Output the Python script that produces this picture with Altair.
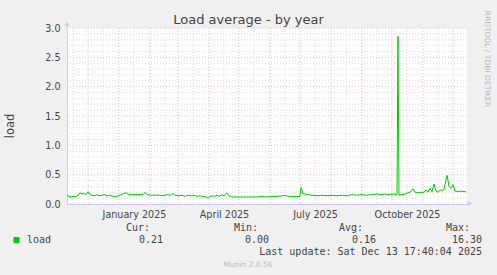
import altair as alt
import pandas as pd

# ---- data ----
start_day = "2024-11-10"
day_offsets = [0, 2, 4, 6, 8, 10, 12, 13, 15, 17, 19, 21, 23, 25, 28, 30, 32, 35, 38, 40,
               43, 46, 48, 51, 54, 57, 59, 61, 64, 68, 72, 76, 78, 80, 84, 88, 92, 96, 100, 103,
               106, 108, 112, 115, 118, 121, 124, 127, 130, 133, 136, 139, 141, 143, 146, 148, 150, 152, 155, 157,
               160, 162, 165, 170, 175, 180, 185, 190, 195, 200, 205, 210, 215, 218, 221, 225, 230, 233, 234, 236,
               238, 241, 245, 250, 255, 260, 265, 270, 275, 280, 285, 290, 295, 300, 305, 310, 314, 318, 322, 326,
               329, 330, 331, 332, 335, 338, 341, 344, 346, 348, 351, 354, 357, 359, 361, 363, 365, 367, 369, 371,
               373, 375, 377, 380, 382, 384, 386, 388, 391, 394, 397, 399]
load = [0.15, 0.13, 0.12, 0.13, 0.12, 0.14, 0.16, 0.19, 0.17, 0.18, 0.16, 0.21, 0.16, 0.15, 0.14, 0.16, 0.14, 0.15, 0.16, 0.14,
        0.15, 0.13, 0.12, 0.14, 0.16, 0.18, 0.19, 0.17, 0.16, 0.16, 0.16, 0.16, 0.20, 0.16, 0.15, 0.15, 0.15, 0.14, 0.16, 0.15,
        0.18, 0.15, 0.14, 0.15, 0.13, 0.15, 0.14, 0.15, 0.13, 0.14, 0.13, 0.12, 0.10, 0.13, 0.14, 0.13, 0.15, 0.13, 0.16, 0.14,
        0.19, 0.14, 0.12, 0.12, 0.12, 0.12, 0.12, 0.12, 0.13, 0.12, 0.13, 0.13, 0.14, 0.15, 0.13, 0.13, 0.13, 0.13, 0.28, 0.18,
        0.17, 0.16, 0.15, 0.14, 0.15, 0.14, 0.15, 0.14, 0.15, 0.14, 0.16, 0.15, 0.16, 0.15, 0.16, 0.17, 0.16, 0.17, 0.16, 0.17,
        0.16, 0.17, 2.86, 0.15, 0.16, 0.17, 0.19, 0.21, 0.26, 0.20, 0.19, 0.20, 0.20, 0.24, 0.20, 0.27, 0.21, 0.34, 0.22, 0.20,
        0.24, 0.23, 0.25, 0.49, 0.30, 0.27, 0.33, 0.22, 0.21, 0.22, 0.21, 0.21]

x_domain = ["2024-11-10", "2025-12-15"]
y_ticks = [0.0, 0.5, 1.0, 1.5, 2.0, 2.5, 3.0]
y_minor = [0.1, 0.2, 0.3, 0.4, 0.6, 0.7, 0.8, 0.9, 1.1, 1.2, 1.3, 1.4, 1.6, 1.7, 1.8, 1.9,
           2.1, 2.2, 2.3, 2.4, 2.6, 2.7, 2.8, 2.9]
month_starts = ["2024-12-01", "2025-01-01", "2025-02-01", "2025-03-01", "2025-04-01", "2025-05-01",
                "2025-06-01", "2025-07-01", "2025-08-01", "2025-09-01", "2025-10-01", "2025-11-01",
                "2025-12-01"]
mid_months = ["2024-11-16", "2024-12-16", "2025-01-16", "2025-02-16", "2025-03-16", "2025-04-16",
              "2025-05-16", "2025-06-16", "2025-07-16", "2025-08-16", "2025-09-16", "2025-10-16",
              "2025-11-16"]
x_label_dates = ["2025-01-16", "2025-04-16", "2025-07-16", "2025-10-16"]

title_text = "Load average - by year"
y_title = "load"
series_name = "load"
stat_names = ["Cur:", "Min:", "Avg:", "Max:"]
stat_values = ["0.21", "0.00", "0.16", "16.30"]
last_update = "Last update: Sat Dec 13 17:40:04 2025"
munin_ver = "Munin 2.0.56"
watermark = "RRDTOOL / TOBI OETIKER"

GREEN = "#00CC00"
TXT = "#444444"
AXIS = "#C8CCF4"

dates = (pd.Timestamp(start_day) + pd.to_timedelta(day_offsets, unit="D")).strftime("%Y-%m-%d")
df = pd.DataFrame({"date": dates, "load": load})

def dt(s):
    y, m, d = [int(v) for v in s.split("-")]
    return alt.DateTime(year=y, month=m, date=d, utc=True)

xscale = alt.Scale(type="utc", domain=[dt(x_domain[0]), dt(x_domain[1])])
yscale = alt.Scale(domain=[0, 3], nice=False, zero=False)

xaxis = alt.Axis(values=[dt(s) for s in x_label_dates],
                 labelExpr="utcFormat(datum.value, '%B %Y')",
                 grid=False, ticks=False, labelPadding=5, labelFont="DejaVu Sans",
                 labelFontSize=9.6, labelColor=TXT, domainColor=AXIS, labelBaseline="top",
                 labelFlush=False, labelOverlap=False, title=None)
yaxis = alt.Axis(values=y_ticks, format=".1f", grid=False, ticks=False, labelPadding=7,
                 labelFont="DejaVu Sans", labelFontSize=9.6, labelColor=TXT,
                 domainColor=AXIS, labelFlush=False, labelOverlap=False, title=None)

minor_h = alt.Chart(pd.DataFrame({"v": y_minor})).mark_rule(
    color="#DCDCDC", strokeDash=[1, 2], strokeWidth=1
).encode(y=alt.Y("v:Q", scale=yscale, axis=yaxis, title=None))

major_h = alt.Chart(pd.DataFrame({"v": y_ticks})).mark_rule(
    color="#F2B8B8", strokeDash=[1, 2], strokeWidth=1
).encode(y=alt.Y("v:Q", scale=yscale, axis=yaxis, title=None))

minor_v = alt.Chart(pd.DataFrame({"d": mid_months})).mark_rule(
    color="#DCDCDC", strokeDash=[1, 2], strokeWidth=1
).encode(x=alt.X("d:T", scale=xscale, axis=xaxis, title=None))

major_v = alt.Chart(pd.DataFrame({"d": month_starts})).mark_rule(
    color="#F2B8B8", strokeDash=[1, 2], strokeWidth=1
).encode(x=alt.X("d:T", scale=xscale, axis=xaxis, title=None))

line = alt.Chart(df).mark_line(color=GREEN, strokeWidth=1, interpolate="linear").encode(
    x=alt.X("date:T", scale=xscale, axis=xaxis, title=None),
    y=alt.Y("load:Q", scale=yscale, axis=yaxis, title=None),
)

one = pd.DataFrame({"k": [0]})

def txt(s, x, y, size=10, font="DejaVu Sans Mono", align="left", color=TXT, angle=0, baseline="alphabetic"):
    return alt.Chart(pd.DataFrame({"t": [s]})).mark_text(
        font=font, fontSize=size, align=align, baseline=baseline, color=color, angle=angle
    ).encode(text="t:N", x=alt.value(x), y=alt.value(y))

layers = [minor_h, major_h, minor_v, major_v, line]

# axis arrows
layers.append(alt.Chart(one).mark_point(shape="triangle-up", filled=True, color=AXIS, size=30, opacity=1)
              .encode(x=alt.value(0), y=alt.value(-4)))
layers.append(alt.Chart(one).mark_point(shape="triangle-right", filled=True, color=AXIS, size=30, opacity=1)
              .encode(x=alt.value(403), y=alt.value(175.5)))

layers.append(txt(title_text, 181.5, -4, size=13, font="DejaVu Sans", align="center"))
layers.append(txt(y_title, -56, 98, size=11.5, font="DejaVu Sans", align="center", angle=270, baseline="middle"))
layers.append(txt(watermark, 420, 31, size=7.5, font="DejaVu Sans", align="center", color="#B8B8B8",
                  angle=90, baseline="middle"))

# legend
layers.append(alt.Chart(one).mark_square(color=GREEN, size=36, opacity=1)
              .encode(x=alt.value(-50.5), y=alt.value(212)))
layers.append(txt(series_name, -40, 215))
hdr_right = [83, 191, 296, 403]
val_right = [96, 202, 309, 415]
for name, val, hx, vx in zip(stat_names, stat_values, hdr_right, val_right):
    layers.append(txt(name, hx, 203, align="right"))
    layers.append(txt(val, vx, 215, align="right"))
layers.append(txt(last_update, 415, 227, align="right"))
layers.append(txt(munin_ver, 181, 239, size=7.5, font="DejaVu Sans", align="center", color="#BBBBBB"))

chart = alt.layer(*layers).properties(
    width=400, height=176,
    autosize=alt.AutoSizeParams(type="none"),
    padding={"left": 67, "top": 28, "right": 30, "bottom": 71},
    background="#F0F0F0",
).configure_view(fill="white", stroke=None)

chart.save("out.html", embed_options={"renderer": "svg", "actions": False})
